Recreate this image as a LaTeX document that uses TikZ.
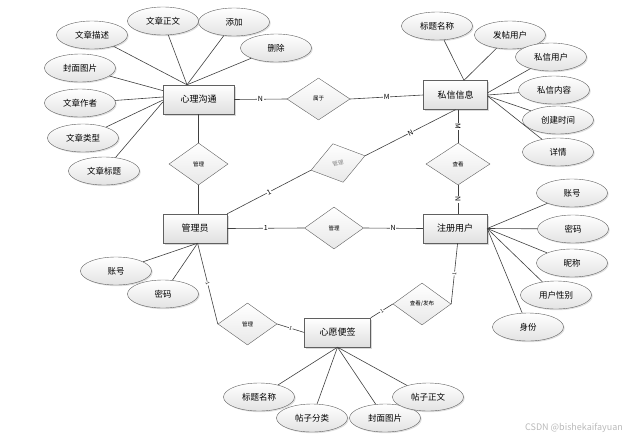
\documentclass[tikz,border=0pt]{standalone}
\usepackage{fontspec}
\newfontfamily\cjk{Noto Sans CJK SC}
\usetikzlibrary{shapes.geometric,shadows}

\begin{document}
\begin{tikzpicture}[x=1pt,y=-1pt,
    entity/.style={draw=gray!75!black, rectangle, minimum width=64pt, minimum height=29pt,
        top color=white, bottom color=gray!25,
        drop shadow={opacity=0.3,shadow xshift=1.5pt,shadow yshift=-1.5pt},
        font=\cjk\fontsize{9}{10}\selectfont},
    attr/.style={draw=gray!75!black, ellipse, minimum width=71pt, minimum height=28pt, inner sep=0pt,
        top color=white, bottom color=gray!22,
        drop shadow={opacity=0.25,shadow xshift=1.2pt,shadow yshift=-1.2pt},
        font=\cjk\fontsize{8.5}{10}\selectfont},
    rel/.style={draw=gray!75!black, diamond, minimum width=59pt, minimum height=42pt, inner sep=0pt,
        top color=white, bottom color=gray!18,
        font=\cjk\fontsize{5.5}{6}\selectfont},
    link/.style={draw=black!75, line width=0.6pt},
    card/.style={fill=white, inner sep=0.5pt, font=\cjk\fontsize{7}{8}\selectfont}
]
    \useasboundingbox (0,0) rectangle (639,439);

    % Entities
    \node[entity, minimum width=71pt] (xlgt) at (198.5,99.5) {心理沟通};
    \node[entity] (sxxx) at (455.5,95) {私信信息};
    \node[entity] (gly) at (195,228.5) {管理员};
    \node[entity] (zcyh) at (455,228.5) {注册用户};
    \node[entity, minimum width=66pt] (xybq) at (337.5,332.5) {心愿便签};

    % Relations
    \node[rel, minimum width=63pt] (sy) at (318.5,99) {属于};
    \node[rel] (gl1) at (198.5,164) {管理};
    \node[rel, rotate=15, minimum width=56pt, minimum height=40pt, text=gray] (gl2) at (338,163) {管理};
    \node[rel] (gl3) at (334,228) {管理};
    \node[rel, minimum width=64pt] (ck) at (458,164) {查看};
    \node[rel, minimum width=58pt] (ckfb) at (422,304) {查看/发布};
    \node[rel] (gl4) at (247.5,324) {管理};

    % Attributes of 心理沟通
    \node[attr] (wzms) at (92,35) {文章描述};
    \node[attr] (wzzw) at (163,21) {文章正文};
    \node[attr] (tj) at (234,22) {添加};
    \node[attr] (sc) at (276,48) {删除};
    \node[attr] (fmtp) at (80,68) {封面图片};
    \node[attr] (wzzz) at (80,103) {文章作者};
    \node[attr] (wzlx) at (83,138) {文章类型};
    \node[attr] (wzbt) at (104,171) {文章标题};

    % Attributes of 私信信息
    \node[attr] (btmc) at (437,26) {标题名称};
    \node[attr] (ftyh) at (510,35) {发帖用户};
    \node[attr] (sxyh) at (551,57) {私信用户};
    \node[attr] (sxnr) at (554,90) {私信内容};
    \node[attr] (cjsj) at (558,120) {创建时间};
    \node[attr] (xq) at (558,152) {详情};

    % Attributes of 注册用户
    \node[attr] (zh) at (572,193) {账号};
    \node[attr] (mm) at (573,229) {密码};
    \node[attr] (nc) at (572,263) {昵称};
    \node[attr] (yhxb) at (556,295) {用户性别};
    \node[attr] (sf) at (528,327) {身份};

    % Attributes of 管理员
    \node[attr] (glzh) at (116,271) {账号};
    \node[attr] (glmm) at (163,294) {密码};

    % Attributes of 心愿便签
    \node[attr] (bqbt) at (259,397) {标题名称};
    \node[attr] (tzfl) at (312,418) {帖子分类};
    \node[attr] (bqfm) at (385,418) {封面图片};
    \node[attr] (tzzw) at (428,397) {帖子正文};

    % Attribute links
    \draw[link] (wzms) -- (xlgt.128);
    \draw[link] (wzzw) -- (xlgt.128);
    \draw[link] (tj) -- (xlgt.128);
    \draw[link] (sc) -- (xlgt.128);
    \draw[link] (fmtp) -- (xlgt.166);
    \draw[link] (wzzz) -- (xlgt.176);
    \draw[link] (wzlx) -- (xlgt.181);
    \draw[link] (wzbt) -- (xlgt.184);

    \draw[link] (btmc) -- (sxxx.60);
    \draw[link] (ftyh) -- (sxxx.60);
    \draw[link] (sxyh) -- (sxxx.4);
    \draw[link] (sxnr) -- (sxxx.east);
    \draw[link] (cjsj) -- (sxxx.-2);
    \draw[link] (xq) -- (sxxx.-2);

    \draw[link] (zh) -- (zcyh.east);
    \draw[link] (mm) -- (zcyh.east);
    \draw[link] (nc) -- (zcyh.east);
    \draw[link] (yhxb) -- (zcyh.east);
    \draw[link] (sf) -- (zcyh.east);

    \draw[link] (glzh) -- (gly.-80);
    \draw[link] (glmm) -- (gly.-80);

    \draw[link] (bqbt) -- (xybq.south);
    \draw[link] (tzfl) -- (xybq.south);
    \draw[link] (bqfm) -- (xybq.south);
    \draw[link] (tzzw) -- (xybq.south);

    % Relation links
    \draw[link] (xlgt.east) -- (sy.west) node[midway, card] {N};
    \draw[link] (sy.east) -- (sxxx.west) node[midway, card] {M};
    \draw[link] (xlgt.south) -- (gl1.north);
    \draw[link] (gl1.south) -- (gl1.south |- gly.north);
    \draw[link] (gly.north east) -- (gl2.west) node[midway, sloped, card] {1};
    \draw[link] (gl2.east) -- (sxxx.south) node[midway, sloped, card] {N};
    \draw[link] (gly.east) -- (gl3.west) node[midway, card] {1};
    \draw[link] (gl3.east) -- (zcyh.west) node[midway, card] {N};
    \draw[link] (ck.north |- sxxx.south) -- (ck.north) node[midway, sloped, card] {M};
    \draw[link] (ck.south) -- (ck.south |- zcyh.north) node[midway, sloped, card] {N};
    \draw[link] (zcyh.-80) -- (ckfb.east) node[midway, sloped, card, font=\cjk\fontsize{5}{6}\selectfont] {1};
    \draw[link] (ckfb.west) -- (xybq.north east) node[midway, sloped, card, font=\cjk\fontsize{5}{6}\selectfont] {1};
    \draw[link] (gly.-80) -- (gl4.west) node[midway, sloped, card, font=\cjk\fontsize{5}{6}\selectfont] {1};
    \draw[link] (gl4.east) -- (xybq.west) node[midway, sloped, card, font=\cjk\fontsize{5}{6}\selectfont] {1};

    % Watermark
    \node[font=\cjk\fontsize{9}{10}\selectfont, text=gray!55] (mark) at (574,428) {CSDN @bishekaifayuan};
\end{tikzpicture}
\end{document}
